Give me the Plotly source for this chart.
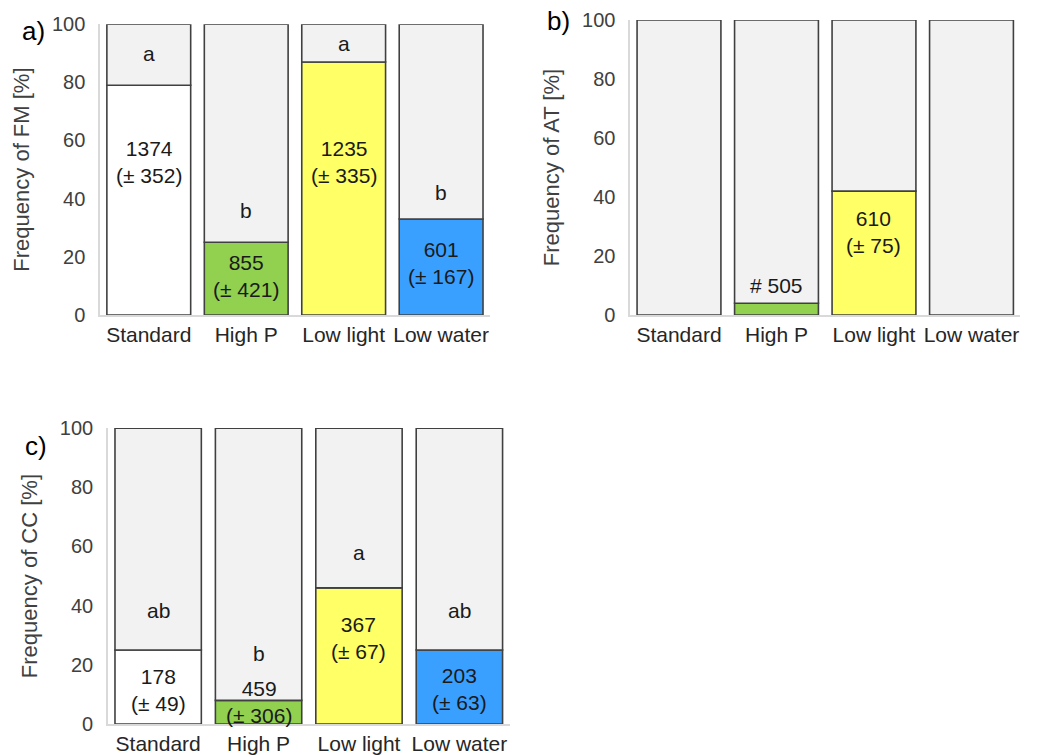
import plotly.graph_objects as go

categories = ["Standard", "High P", "Low light", "Low water"]
bar_colors = ["#ffffff", "#92d050", "#ffff66", "#3aa0ff"]

fm_values = [79, 25, 87, 33]
at_values = [0, 4, 42, 0]
cc_values = [25, 8, 46, 25]

fm_letters = ["a", "b", "a", "b"]
fm_letter_y = [90, 36, 93.5, 42]
fm_counts = ["1374<br>(± 352)", "855<br>(± 421)", "1235<br>(± 335)", "601<br>(± 167)"]
fm_count_y = [52.5, 13.5, 52.5, 18]

at_counts = ["", "# 505", "610<br>(± 75)", ""]
at_count_y = [0, 10, 28, 0]

cc_letters = ["ab", "b", "a", "ab"]
cc_letter_y = [38.5, 24, 58, 38.5]
cc_counts = ["178<br>(± 49)", "459<br>(± 306)", "367<br>(± 67)", "203<br>(± 63)"]
cc_count_y = [11.5, 7.5, 29, 12]

panels = [
    dict(vals=fm_values, title="Frequency of FM [%]", xd=[0.0962, 0.471], yd=[0.5828, 0.968],
         letters=fm_letters, ly=fm_letter_y, counts=fm_counts, cy=fm_count_y, lab="a)", labxy=(0.019, 0.982)),
    dict(vals=at_values, title="Frequency of AT [%]", xd=[0.606, 0.981], yd=[0.5828, 0.9735],
         letters=None, ly=None, counts=at_counts, cy=at_count_y, lab="b)", labxy=(0.524, 0.995)),
    dict(vals=cc_values, title="Frequency of CC [%]", xd=[0.1038, 0.490], yd=[0.041, 0.433],
         letters=cc_letters, ly=cc_letter_y, counts=cc_counts, cy=cc_count_y, lab="c)", labxy=(0.022, 0.432)),
]

fig = go.Figure()
font_family = "Liberation Sans, Arial, sans-serif"
line_style = dict(color="#404040", width=1.6)

for i, p in enumerate(panels, start=1):
    xa = "x" if i == 1 else f"x{i}"
    ya = "y" if i == 1 else f"y{i}"
    fig.add_trace(go.Bar(x=categories, y=p["vals"], marker=dict(color=bar_colors, line=line_style),
                         xaxis=xa, yaxis=ya, showlegend=False, width=0.86))
    rest = [100 - v for v in p["vals"]]
    fig.add_trace(go.Bar(x=categories, y=rest, base=p["vals"],
                         marker=dict(color="#f2f2f2", line=line_style),
                         xaxis=xa, yaxis=ya, showlegend=False, width=0.86))
    axname = "" if i == 1 else str(i)
    fig.layout["xaxis" + axname] = dict(domain=p["xd"], anchor=ya, range=[-0.5, 3.5], automargin=False,
                                        showline=True, linecolor="#d9d9d9", linewidth=1.5,
                                        ticks="", tickfont=dict(size=21, color="#262626", family=font_family),
                                        showgrid=False, fixedrange=True)
    fig.layout["yaxis" + axname] = dict(domain=p["yd"], anchor=xa, range=[0, 100], automargin=False,
                                        tickvals=[0, 20, 40, 60, 80, 100],
                                        showline=True, linecolor="#d9d9d9", linewidth=1.5,
                                        ticks="outside", ticklen=9, tickcolor="rgba(0,0,0,0)",
                                        showgrid=False, zeroline=False,
                                        tickfont=dict(size=20, color="#404040", family=font_family),
                                        title=dict(text=p["title"], font=dict(size=22, color="#404040", family=font_family),
                                                   standoff=16))
    if p["letters"]:
        for c, t, yv in zip(categories, p["letters"], p["ly"]):
            fig.add_annotation(x=c, y=yv, text=t, xref=xa, yref=ya, showarrow=False,
                               font=dict(size=21, color="#1a1a1a", family=font_family))
    for c, t, yv in zip(categories, p["counts"], p["cy"]):
        if t:
            fig.add_annotation(x=c, y=yv, text=t, xref=xa, yref=ya, showarrow=False,
                               font=dict(size=21, color="#1a1a1a", family=font_family))
    fig.add_annotation(x=p["labxy"][0], y=p["labxy"][1], xref="paper", yref="paper", text=p["lab"],
                       showarrow=False, xanchor="left", yanchor="top",
                       font=dict(size=26, color="#000000", family=font_family))

fig.update_layout(barmode="overlay", width=1040, height=755, margin=dict(l=0, r=0, t=0, b=0, autoexpand=False),
                  plot_bgcolor="white", paper_bgcolor="white",
                  font=dict(family=font_family))

fig.write_html("out.html")
